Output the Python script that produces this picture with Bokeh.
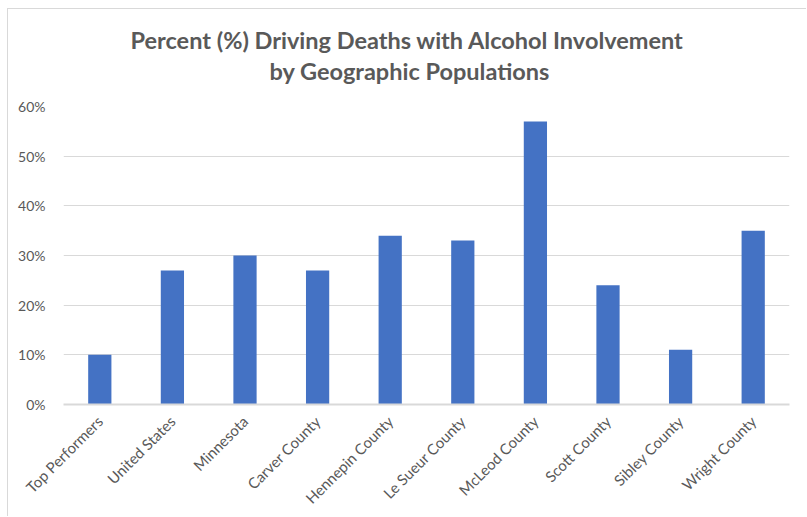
import math
from bokeh.plotting import figure
from bokeh.models import ColumnDataSource, PrintfTickFormatter, FixedTicker, Title
from bokeh.embed import file_html
from bokeh.resources import INLINE

categories = ["Top Performers", "United States", "Minnesota", "Carver County",
              "Hennepin County", "Le Sueur County", "McLeod County", "Scott County",
              "Sibley County", "Wright County"]
values = [10, 27, 30, 27, 34, 33, 57, 24, 11, 35]
y_ticks = [0, 10, 20, 30, 40, 50, 60]
title_lines = ["Percent (%) Driving Deaths with Alcohol Involvement",
               "by Geographic Populations"]

source = ColumnDataSource(data=dict(cat=categories, val=values))

p = figure(x_range=categories, y_range=(0, 60), width=799, height=508,
           output_backend="svg", toolbar_location=None, title=None,
           min_border_left=55, min_border_right=18, min_border_top=97,
           min_border_bottom=113)
p.margin = (8, 0, 0, 7)
p.styles = {"border-top": "1px solid #d9d9d9", "border-left": "1px solid #d9d9d9"}

p.vbar(x="cat", top="val", width=0.32, source=source, color="#4472C4", line_color=None)

# spacer between the plot area and the two-line title
p.add_layout(Title(text=" ", text_font_size="10px", standoff=8), "above")

title_offsets = [67, 206]
title_standoffs = [0, 2]
for line, off, so in reversed(list(zip(title_lines, title_offsets, title_standoffs))):
    p.add_layout(Title(text=line, align="left", text_font="Lato",
                       text_font_size="23.5px", text_color="#595959",
                       text_font_style="bold", offset=off, standoff=so), "above")

p.outline_line_color = None
p.xgrid.grid_line_color = None
p.ygrid.grid_line_color = "#d9d9d9"
p.ygrid.grid_line_width = 1

p.yaxis.ticker = FixedTicker(ticks=y_ticks)
p.yaxis.formatter = PrintfTickFormatter(format="%d%%")
p.yaxis.axis_line_color = None
p.yaxis.major_tick_line_color = None
p.yaxis.minor_tick_line_color = None
p.yaxis.major_label_text_font = "Lato"
p.yaxis.major_label_text_font_size = "14px"
p.yaxis.major_label_text_color = "#595959"
p.yaxis.major_label_standoff = 12

p.xaxis.axis_line_color = "#d9d9d9"
p.xaxis.axis_line_width = 2
p.xaxis.major_tick_line_color = None
p.xaxis.minor_tick_line_color = None
p.xaxis.major_label_orientation = math.pi / 4
p.xaxis.major_label_text_font = "Lato"
p.xaxis.major_label_text_font_size = "15px"
p.xaxis.major_label_text_color = "#595959"
p.xaxis.major_label_standoff = 8

open("out.html", "w").write(file_html(p, INLINE))
